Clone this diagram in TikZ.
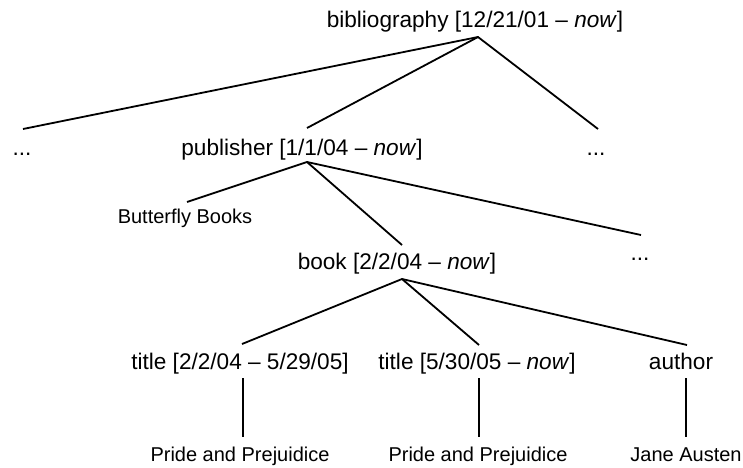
\documentclass[tikz,border=0pt]{standalone}
\usepackage{fontspec}
\setmainfont{Liberation Sans}
\begin{document}
\begin{tikzpicture}[x=1pt,y=-1pt,
  big/.style={font=\fontsize{22.6}{24}\selectfont, inner sep=0pt, anchor=base},
  small/.style={font=\fontsize{20}{22}\selectfont, inner sep=0pt, anchor=base},
  edge/.style={line width=1.8pt}]
\useasboundingbox (0,0) rectangle (743,467);

% labels
\node[big]   (bib)  at (475,27)  {bibliography [12/21/01 -- \textit{now}]};
\node[big]   (dl)   at (22,155)  {...};
\node[big]   (pub)  at (302,155) {publisher [1/1/04 -- \textit{now}]};
\node[big]   (dr)   at (596,155) {...};
\node[small] (bfb)  at (185,223) {Butterfly Books};
\node[big]   (book) at (397,269) {book [2/2/04 -- \textit{now}]};
\node[big]   (dr2)  at (640,260) {...};
\node[big]   (t1)   at (240,369) {title [2/2/04 -- 5/29/05]};
\node[big]   (t2)   at (477,369) {title [5/30/05 -- \textit{now}]};
\node[big]   (au)   at (681,369) {author};
\node[small] (pp1)  at (240,461) {Pride and Prejuidice};
\node[small] (pp2)  at (478,461) {Pride and Prejuidice};
\node[small] (ja)   at (686,461) {Jane Austen};

% attachment points of the branches
\coordinate (bib-s)  at (478,37);
\coordinate (dl-n)   at (23,129);
\coordinate (pub-n)  at (307,128);
\coordinate (dr-n)   at (598,129);
\coordinate (pub-s)  at (307,162);
\coordinate (bfb-n)  at (187,202);
\coordinate (book-n) at (402,245);
\coordinate (dr2-n)  at (641,235);
\coordinate (book-s) at (402,279);
\coordinate (t1-n)   at (242,344);
\coordinate (t2-n)   at (479,345);
\coordinate (au-n)   at (687,345);
\coordinate (t1-s)   at (243,378);
\coordinate (t2-s)   at (479,378);
\coordinate (au-s)   at (686,378);
\coordinate (pp1-n)  at (243,437);
\coordinate (pp2-n)  at (479,437);
\coordinate (ja-n)   at (686,437);

% branches
\draw[edge] (dl-n) -- (bib-s) -- (dr-n);
\draw[edge] (bib-s) -- (pub-n);
\draw[edge] (bfb-n) -- (pub-s) -- (dr2-n);
\draw[edge] (pub-s) -- (book-n);
\draw[edge] (t1-n) -- (book-s) -- (au-n);
\draw[edge] (book-s) -- (t2-n);
\draw[edge] (t1-s) -- (pp1-n);
\draw[edge] (t2-s) -- (pp2-n);
\draw[edge] (au-s) -- (ja-n);
\end{tikzpicture}
\end{document}
